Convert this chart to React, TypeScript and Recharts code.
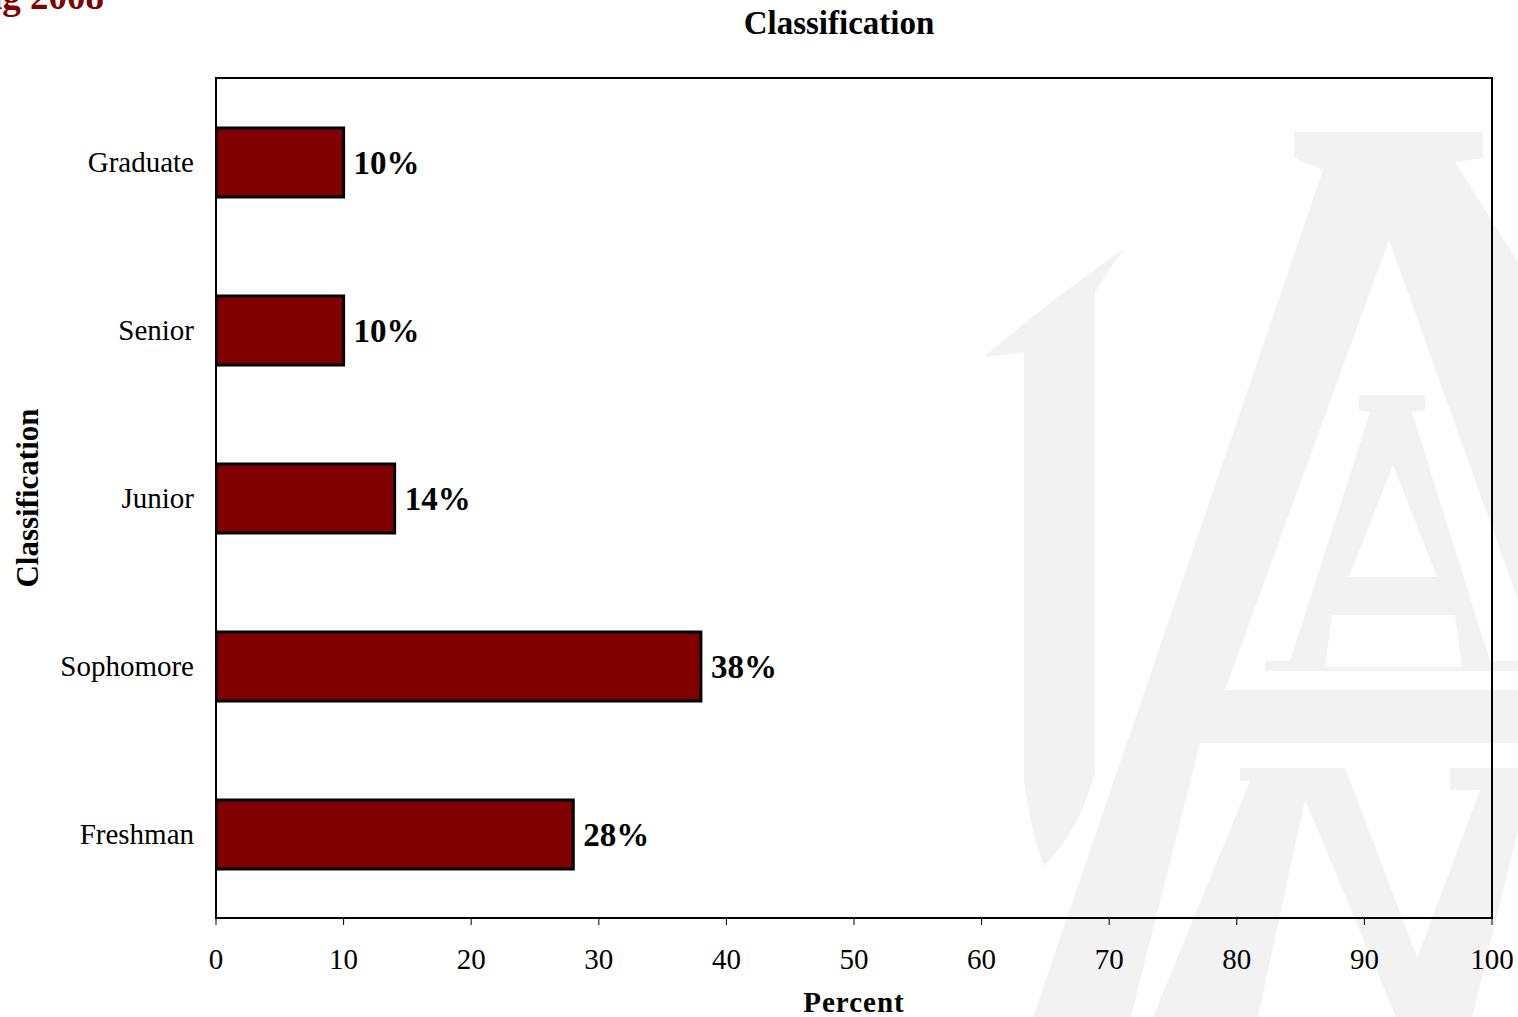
import React from "react";
import {
  BarChart,
  Bar,
  XAxis,
  YAxis,
  LabelList,
  ReferenceArea,
} from "recharts";

// values (percent of respondents)
const categories = ["Graduate", "Senior", "Junior", "Sophomore", "Freshman"];
const percents = [10, 10, 14, 38, 28];
const xTicks = [0, 10, 20, 30, 40, 50, 60, 70, 80, 90, 100];

const data = categories.map((name, i) => ({ name, value: percents[i] }));

const SERIF = '"Liberation Serif", "Times New Roman", serif';
const MAROON = "#800000";

// faint logo in the background, purely decorative
function Watermark() {
  const g = "#f2f2f2";
  return (
    <svg
      width={1518}
      height={1017}
      style={{ position: "absolute", left: 0, top: 0 }}
    >
      {/* J */}
      <path
        d="M984 357 Q1050 300 1124 249 L1110 268 L1095 293 L1095 772 Q1080 830 1044 866 Q1030 830 1024 780 L1024 352 Z"
        fill={g}
      />
      {/* big A with its crossbar */}
      <path
        d="M1294 132 L1483 132 L1483 158 L1455 162 L1518 262 L1518 600 L1389 240 L1225 690 L1518 690 L1518 743 L1200 743 L1131 1017 L1033 1017 L1323 170 L1294 158 Z"
        fill={g}
      />
      {/* inner A */}
      <path
        d="M1359 395 L1425 395 L1425 410 L1412 412 L1490 661 L1518 661 L1518 671 L1265 671 L1265 661 L1290 661 L1370 412 L1359 410 Z M1393 465 L1437 577 L1349 577 Z M1332 615 L1455 615 L1462 667 L1325 667 Z"
        fill={g}
        fillRule="evenodd"
      />
      {/* lower shapes */}
      <path
        d="M1240 768 L1345 768 L1440 1017 L1396 1017 L1305 800 L1258 1017 L1153 1017 L1250 781 L1240 781 Z"
        fill={g}
      />
      <path d="M1450 768 L1518 768 L1518 830 L1472 1017 L1395 1017 L1480 790 L1450 790 Z" fill={g} />
    </svg>
  );
}

export default function App() {
  return (
    <div
      style={{
        position: "absolute",
        left: 0,
        top: 0,
        width: 1518,
        height: 1017,
        overflow: "hidden",
        background: "#fff",
        fontFamily: SERIF,
      }}
    >
      <Watermark />
      {/* clipped page heading, mostly off the left edge */}
      <div
        style={{
          position: "absolute",
          right: 1518 - 104,
          top: -25,
          whiteSpace: "nowrap",
          color: MAROON,
          fontWeight: "bold",
          fontSize: 37,
        }}
      >
        Spring 2008
      </div>
      <div
        style={{
          position: "absolute",
          left: 0,
          width: 1678,
          top: 5,
          textAlign: "center",
          fontWeight: "bold",
          fontSize: 33,
          color: "#000",
        }}
      >
        Classification
      </div>
      <div style={{ position: "absolute", left: 0, top: 0 }}>
        <BarChart
          width={1518}
          height={1017}
          data={data}
          layout="vertical"
          margin={{ top: 78, right: 26, bottom: 0, left: 0 }}
          barSize={69}
        >
          <XAxis
            type="number"
            domain={[0, 100]}
            ticks={xTicks}
            interval={0}
            allowDataOverflow
            tickLine={{ stroke: "#000", strokeWidth: 1 }}
            tickSize={7}
            tickMargin={23}
            axisLine={{ stroke: "#000", strokeWidth: 2 }}
            tick={{ fill: "#000", fontSize: 29, fontFamily: SERIF }}
            height={99}
            label={{
              value: "Percent",
              position: "insideBottom",
              offset: 5,
              fill: "#000",
              fontSize: 29,
              fontWeight: "bold",
              fontFamily: SERIF,
              letterSpacing: 1,
            }}
          />
          <YAxis
            type="category"
            dataKey="name"
            width={216}
            tickLine={false}
            tickSize={0}
            tickMargin={22}
            axisLine={{ stroke: "#000", strokeWidth: 2 }}
            tick={{ fill: "#000", fontSize: 29, fontFamily: SERIF }}
            label={{
              value: "Classification",
              angle: -90,
              position: "insideLeft",
              offset: 27,
              fill: "#000",
              fontSize: 31,
              fontWeight: "bold",
              fontFamily: SERIF,
              style: { textAnchor: "middle" },
            }}
          />
          {/* plot frame */}
          <ReferenceArea
            x1={0}
            x2={100}
            fill="none"
            stroke="#000"
            strokeWidth={2}
            ifOverflow="visible"
          />
          <Bar
            dataKey="value"
            fill={MAROON}
            stroke="#000"
            strokeWidth={3}
            isAnimationActive={false}
          >
            <LabelList
              dataKey="value"
              position="right"
              offset={10}
              formatter={(v: number) => `${v}%`}
              style={{
                fill: "#000",
                fontSize: 33,
                fontWeight: "bold",
                fontFamily: SERIF,
              }}
            />
          </Bar>
        </BarChart>
      </div>
    </div>
  );
}
